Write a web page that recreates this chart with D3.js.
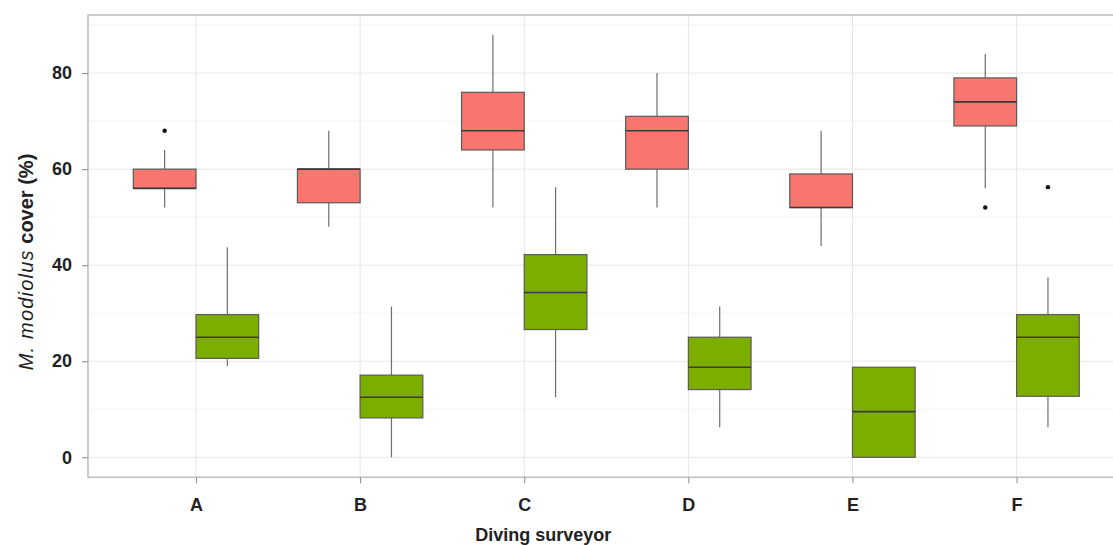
<!DOCTYPE html>
<html>
<head>
<meta charset="utf-8">
<script src="https://cdn.jsdelivr.net/npm/d3@7"></script>
<style>
  html, body { margin: 0; padding: 0; background: #ffffff; }
  svg { display: block; }
</style>
</head>
<body>
<svg id="chart" width="1113" height="545"></svg>
<script>
// ---- data ----
const categories = ["A", "B", "C", "D", "E", "F"];
const groups = ["first", "second"];

const redLow    = [52, 48, 52, 52, 44, 56];
const redQ1     = [56, 53, 64, 60, 52, 69];
const redMedian = [56, 60, 68, 68, 52, 74];
const redQ3     = [60, 60, 76, 71, 59, 79];
const redHigh   = [64, 68, 88, 80, 68, 84];
const redOutliers = [[68], [], [], [], [], [52]];

const greenLow    = [19, 0, 12.5, 6.25, 0, 6.25];
const greenQ1     = [20.6, 8.2, 26.6, 14.1, 0, 12.7];
const greenMedian = [25, 12.5, 34.3, 18.75, 9.5, 25];
const greenQ3     = [29.7, 17.1, 42.2, 25, 18.75, 29.7];
const greenHigh   = [43.75, 31.4, 56.25, 31.4, 18.75, 37.5];
const greenOutliers = [[], [], [], [], [], [56.25]];

const yTicks = [0, 20, 40, 60, 80];
const yMinor = [10, 30, 50, 70, 90];

const xTitle = "Diving surveyor";

// ---- layout ----
const svg = d3.select("#chart");
const panel = { left: 88, top: 15, right: 1124.6, bottom: 477.3 };

const x = d3.scalePoint().domain(categories)
  .range([panel.left, panel.right]).padding(0.658);
const step = x.step();
const xg = d3.scaleBand().domain(groups)
  .range([-0.382 * step, 0.382 * step]).paddingInner(0).paddingOuter(0);
const y = d3.scaleLinear().domain([-4.17, 92.1]).range([panel.bottom, panel.top]);

const colors = { first: "#F8766D", second: "#7CAE00" };

const boxes = [];
categories.forEach((c, i) => {
  boxes.push({ cat: c, g: "first", low: redLow[i], q1: redQ1[i], med: redMedian[i], q3: redQ3[i], high: redHigh[i], out: redOutliers[i] });
  boxes.push({ cat: c, g: "second", low: greenLow[i], q1: greenQ1[i], med: greenMedian[i], q3: greenQ3[i], high: greenHigh[i], out: greenOutliers[i] });
});

svg.append("clipPath").attr("id", "pclip")
  .append("rect").attr("x", panel.left).attr("y", panel.top)
  .attr("width", panel.right - panel.left).attr("height", panel.bottom - panel.top);

const gPanel = svg.append("g").attr("clip-path", "url(#pclip)");

// minor gridlines
gPanel.selectAll("line.minor").data(yMinor).join("line")
  .attr("x1", panel.left).attr("x2", panel.right)
  .attr("y1", d => y(d)).attr("y2", d => y(d))
  .attr("stroke", "#f4f4f4").attr("stroke-width", 1);
// major gridlines
gPanel.selectAll("line.majory").data(yTicks).join("line")
  .attr("x1", panel.left).attr("x2", panel.right)
  .attr("y1", d => y(d)).attr("y2", d => y(d))
  .attr("stroke", "#e6e6e6").attr("stroke-width", 1);
gPanel.selectAll("line.majorx").data(categories).join("line")
  .attr("x1", d => x(d)).attr("x2", d => x(d))
  .attr("y1", panel.top).attr("y2", panel.bottom)
  .attr("stroke", "#e6e6e6").attr("stroke-width", 1);

// boxes
const bw = xg.bandwidth();
const bg = gPanel.selectAll("g.box").data(boxes).join("g")
  .attr("transform", d => `translate(${x(d.cat) + xg(d.g)},0)`);

bg.append("line")
  .attr("x1", bw / 2).attr("x2", bw / 2)
  .attr("y1", d => y(d.q3)).attr("y2", d => y(d.high))
  .attr("stroke", "#6e6e6e").attr("stroke-width", 1.2);
bg.append("line")
  .attr("x1", bw / 2).attr("x2", bw / 2)
  .attr("y1", d => y(d.q1)).attr("y2", d => y(d.low))
  .attr("stroke", "#6e6e6e").attr("stroke-width", 1.2);
bg.append("rect")
  .attr("x", 0).attr("width", bw)
  .attr("y", d => y(d.q3)).attr("height", d => y(d.q1) - y(d.q3))
  .attr("fill", d => colors[d.g])
  .attr("stroke", "#5a5a5a").attr("stroke-width", 1.2);
bg.append("line")
  .attr("x1", 0).attr("x2", bw)
  .attr("y1", d => y(d.med)).attr("y2", d => y(d.med))
  .attr("stroke", "#3a3a3a").attr("stroke-width", 1.6);
bg.selectAll("circle").data(d => d.out).join("circle")
  .attr("cx", bw / 2).attr("cy", d => y(d)).attr("r", 2.2)
  .attr("fill", "#111");

// panel border
svg.append("rect")
  .attr("x", panel.left).attr("y", panel.top)
  .attr("width", panel.right - panel.left).attr("height", panel.bottom - panel.top)
  .attr("fill", "none").attr("stroke", "#bdbdbd").attr("stroke-width", 1.5);

// axes
const yAxis = d3.axisLeft(y).tickValues(yTicks).tickSize(6).tickPadding(10);
const gy = svg.append("g").attr("transform", `translate(${panel.left},0)`).call(yAxis);
gy.select(".domain").remove();
gy.selectAll(".tick line").attr("stroke", "#8a8a8a");
gy.selectAll(".tick text")
  .attr("font-family", "Liberation Sans, Arial, sans-serif")
  .attr("font-size", 18).attr("font-weight", "bold").attr("fill", "#222");

const xAxis = d3.axisBottom(x).tickSize(6).tickPadding(15);
const gx = svg.append("g").attr("transform", `translate(0,${panel.bottom})`).call(xAxis);
gx.select(".domain").remove();
gx.selectAll(".tick line").attr("stroke", "#8a8a8a");
gx.selectAll(".tick text")
  .attr("font-family", "Liberation Sans, Arial, sans-serif")
  .attr("font-size", 18).attr("font-weight", "bold").attr("fill", "#222");

// titles
svg.append("text")
  .attr("x", (x("C") + x("D")) / 2 - 63).attr("y", 541)
  .attr("text-anchor", "middle")
  .attr("font-family", "Liberation Sans, Arial, sans-serif")
  .attr("font-size", 18).attr("font-weight", "bold").attr("fill", "#222")
  .text(xTitle);

const yt = svg.append("text")
  .attr("transform", `translate(33,262) rotate(-90)`)
  .attr("text-anchor", "middle")
  .attr("font-family", "Liberation Sans, Arial, sans-serif")
  .attr("font-size", 20).attr("fill", "#222");
yt.append("tspan").attr("font-style", "italic").attr("letter-spacing", 1.2).text("M. modiolus");
yt.append("tspan").attr("font-weight", "bold").text(" cover (%)");
</script>
</body>
</html>
